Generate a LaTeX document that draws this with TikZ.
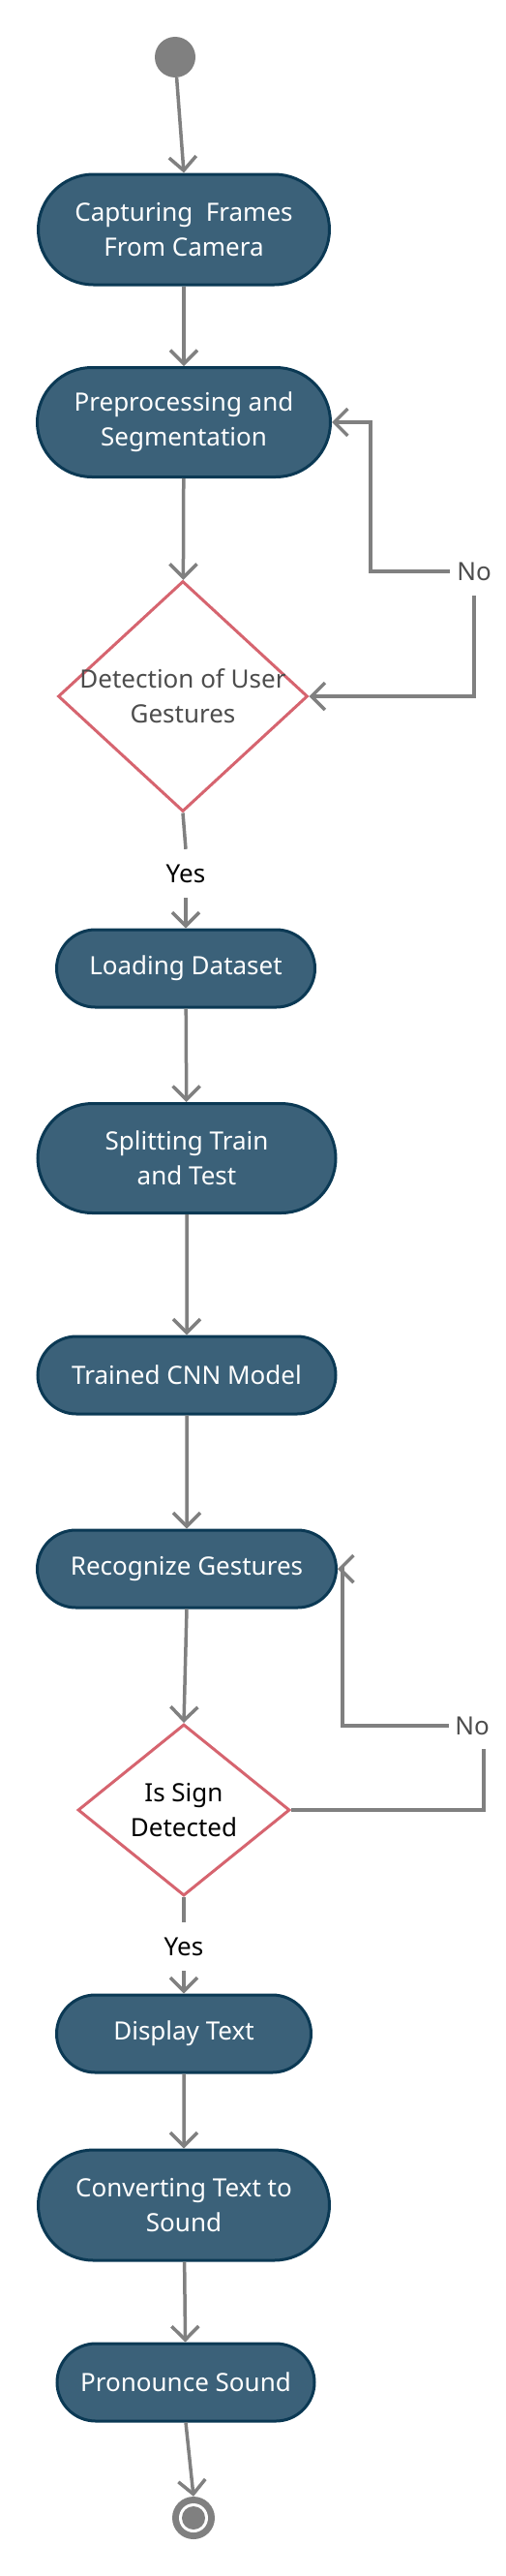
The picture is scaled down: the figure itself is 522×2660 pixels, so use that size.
\documentclass[tikz,border=0pt]{standalone}
\usepackage{fontspec}
\setmainfont{Noto Sans}
\usetikzlibrary{arrows.meta,shapes.geometric,shapes.misc}

\definecolor{boxfill}{HTML}{3B6179}
\definecolor{boxline}{HTML}{0B3954}
\definecolor{decline}{HTML}{D6646F}
\definecolor{flowgray}{HTML}{808080}
\definecolor{labelgray}{HTML}{4D4D4D}

\tikzset{
  txt/.style={font=\fontsize{26pt}{36pt}\selectfont, align=center},
  activity/.style={txt, rounded rectangle, draw=boxline, fill=boxfill,
    line width=3pt, text=white, inner sep=0pt},
  decision/.style={diamond, draw=decline, fill=white, line width=3pt, inner sep=0pt},
  guard/.style={txt, inner sep=0pt, minimum size=50pt},
  flow/.style={draw=flowgray, line width=3.5pt},
  tip/.style={Straight Barb[length=14pt,width=28pt]},
  arrow/.style={flow, -{Straight Barb[length=14pt,width=28pt]}},
  startstate/.style={circle, fill=flowgray, minimum size=42pt, inner sep=0pt},
  endstate/.style={circle, fill=flowgray, minimum size=44pt, inner sep=0pt,
    path picture={
      \fill[white] (path picture bounding box.center) circle (15pt);
      \fill[flowgray] (path picture bounding box.center) circle (12pt);}}
}

\begin{document}
\begin{tikzpicture}[x=1pt,y=-1pt]
    \useasboundingbox (0,0) rectangle (522,2660);

    % Capture and detection:
    \node[startstate] (start) at (181,59) {};
    \node[activity, minimum width=301pt, minimum height=114pt] (capture) at (190,237)
        {Capturing\ \ Frames\\From Camera};
    \node[activity, minimum width=303pt, minimum height=113pt] (preproc) at (190,436)
        {Preprocessing and\\Segmentation};
    \node[decision, minimum width=258pt, minimum height=238pt,
        label={[txt, text=labelgray]center:{Detection of User\\Gestures}}] (detect) at (189,719) {};
    \node[guard, text=labelgray] (no1) at (490,590) {No};
    \node[guard] (yes1) at (192,902) {Yes};

    % Training:
    \node[activity, minimum width=267pt, minimum height=80pt] (loading) at (192,1000)
        {Loading Dataset};
    \node[activity, minimum width=308pt, minimum height=113pt] (split) at (193,1196)
        {Splitting Train\\and Test};
    \node[activity, minimum width=308pt, minimum height=80pt] (cnn) at (193,1420)
        {Trained CNN Model};

    % Recognition and output:
    \node[activity, minimum width=309pt, minimum height=80pt] (recog) at (193,1620)
        {Recognize Gestures};
    \node[decision, minimum width=219pt, minimum height=177pt,
        label={[txt]center:{Is Sign\\Detected}}] (signq) at (190,1869) {};
    \node[guard, text=labelgray, minimum size=48pt] (no2) at (488,1782) {No};
    \node[guard] (yes2) at (190,2010) {Yes};
    \node[activity, minimum width=263pt, minimum height=80pt] (display) at (190,2100)
        {Display Text};
    \node[activity, minimum width=301pt, minimum height=114pt] (convert) at (190,2277)
        {Converting Text to\\Sound};
    \node[activity, minimum width=266pt, minimum height=80pt] (pronounce) at (192,2460)
        {Pronounce Sound};
    \node[endstate] (finish) at (200,2600) {};

    % Connectors:
    \draw[arrow] (start) -- (capture.north);
    \draw[arrow] (capture) -- (preproc);
    \draw[arrow] (preproc) -- (detect);
    \draw[flow, {Straight Barb[length=14pt,width=28pt]}-] (detect.east) -| (no1.south);
    \draw[arrow] (no1.west) -| ([xshift=40pt]preproc.east) -- (preproc.east);
    \draw[flow] (detect.south) -- (yes1.north);
    \draw[arrow] (yes1.south) -- (loading.north);
    \draw[arrow] (loading) -- (split);
    \draw[arrow] (split) -- (cnn);
    \draw[arrow] (cnn) -- (recog);
    \draw[arrow] (recog.south) -- (signq.north);
    \draw[flow] (signq.east) -| ([xshift=12pt]no2.south);
    \draw[arrow] (no2.west) -| ([xshift=5pt]recog.east) -- (recog.east);
    \draw[flow] (signq.south) -- (yes2.north);
    \draw[arrow] (yes2.south) -- (display.north);
    \draw[arrow] (display) -- (convert);
    \draw[arrow] (convert) -- (pronounce);
    \draw[arrow] (pronounce.south) -- (finish.north);
\end{tikzpicture}
\end{document}
